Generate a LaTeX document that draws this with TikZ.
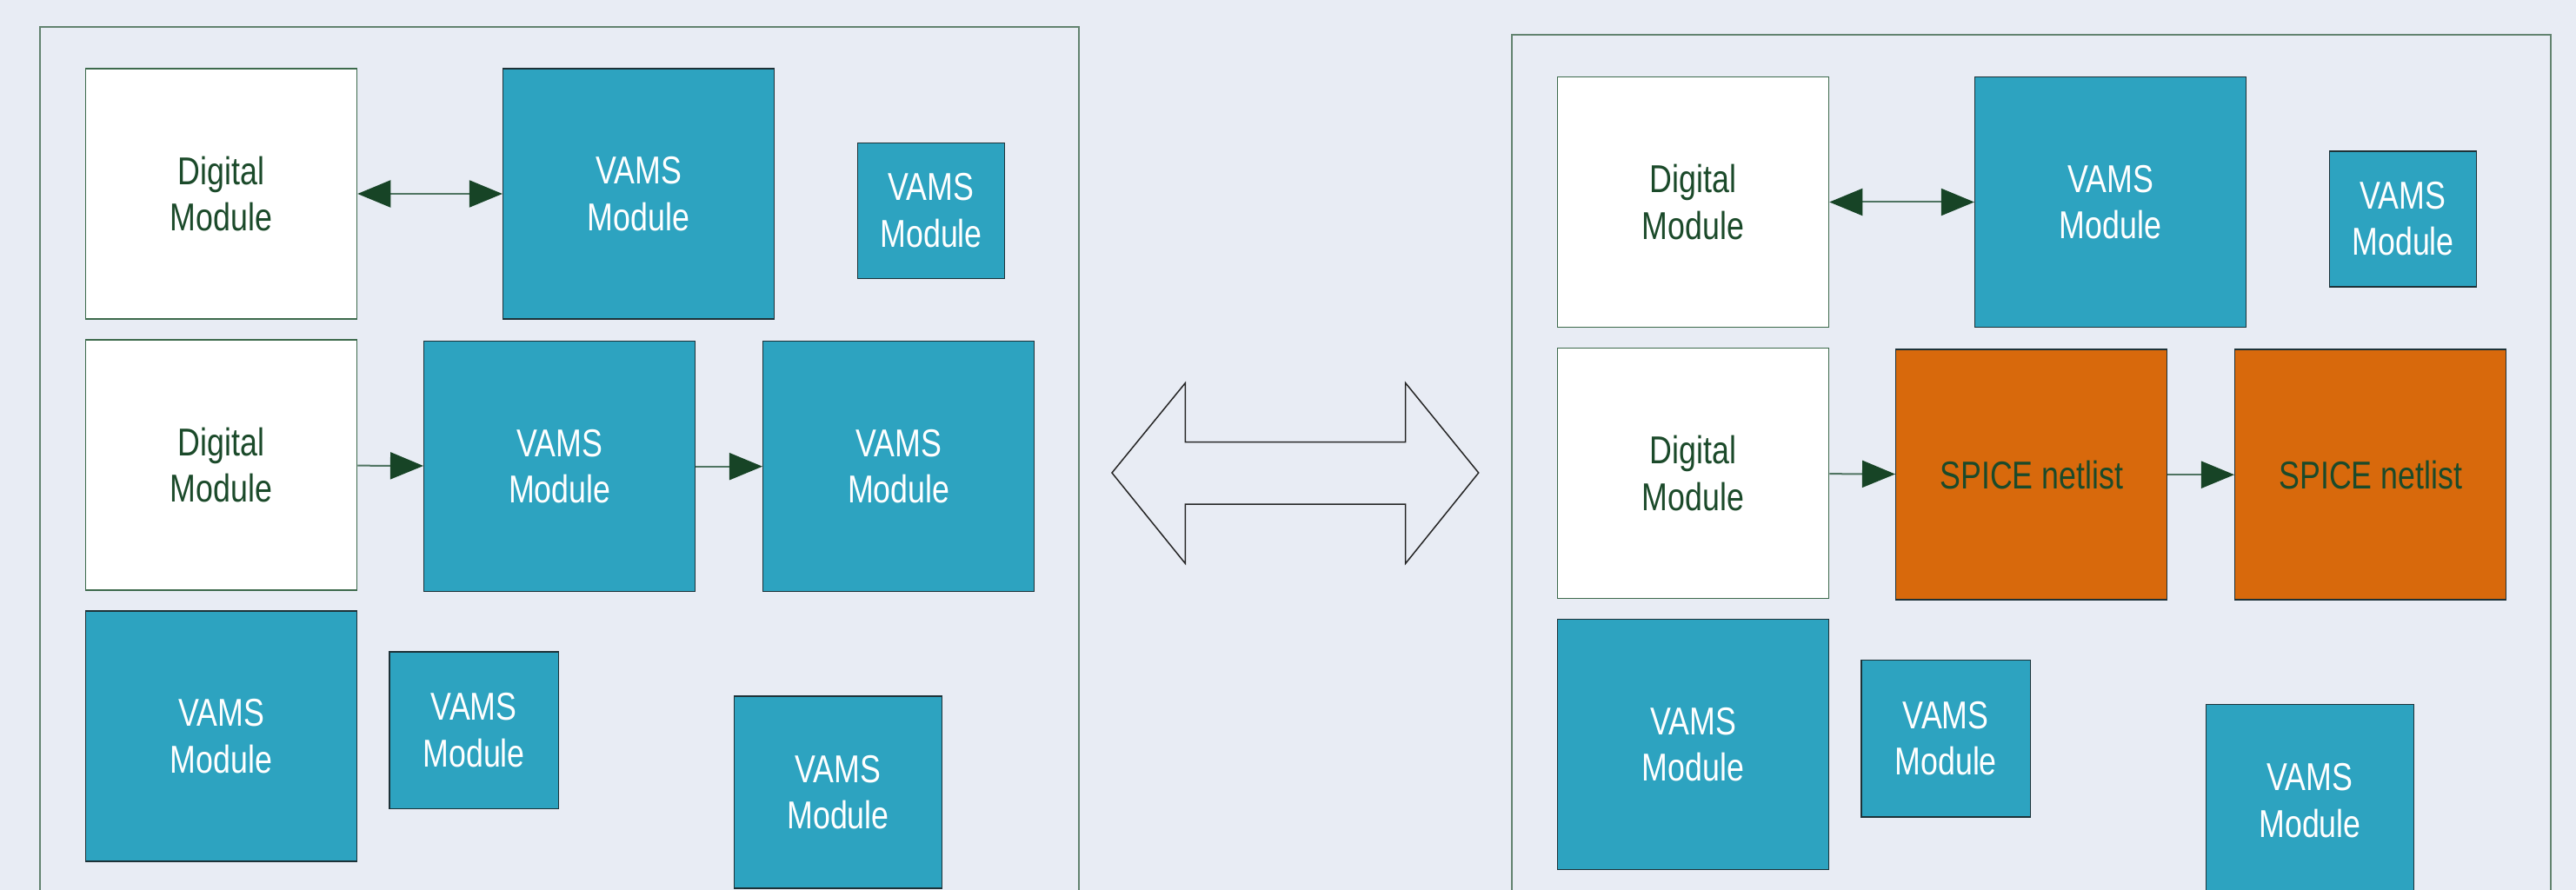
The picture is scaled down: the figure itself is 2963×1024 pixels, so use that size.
\documentclass[tikz,border=0pt]{standalone}
\usepackage{fontspec}
\newfontfamily\boxfont[FakeStretch=0.8]{Liberation Sans}
\usetikzlibrary{arrows.meta}

\definecolor{pagebg}{HTML}{E8ECF4}
\definecolor{panelline}{HTML}{62836F}
\definecolor{dgreen}{HTML}{1B4A2A}
\definecolor{tipgreen}{HTML}{174426}
\definecolor{connline}{HTML}{4F7461}
\definecolor{vamsfill}{HTML}{2DA3C0}
\definecolor{vamsline}{HTML}{1D3238}
\definecolor{spicefill}{HTML}{D8690C}
\definecolor{digline}{HTML}{3D6A4C}

\tikzset{
  modbox/.style={rectangle, inner sep=0pt, line width=1.5pt, align=center,
    font=\boxfont\fontsize{44.7}{53.5}\selectfont},
  dims/.style 2 args={minimum width=#1pt, minimum height=#2pt},
  digital/.style={modbox, draw=digline, fill=white, text=dgreen},
  vams/.style={modbox, draw=vamsline, fill=vamsfill, text=white},
  spice/.style={modbox, draw=vamsline, fill=spicefill, text=dgreen},
  panel/.style={draw=panelline, line width=2pt},
  conn/.style={draw=connline, line width=2pt},
  >={Triangle[length=38pt, width=31pt, color=tipgreen]},
}

\begin{document}
\begin{tikzpicture}[x=1pt, y=-1pt]
  \useasboundingbox (0,0) rectangle (2963,1024);
  \clip (0,0) rectangle (2963,1024);
  \fill[pagebg] (0,0) rectangle (2963,1024);

  % behavioural model: every analog block is a VAMS module
  \begin{scope}[name prefix=l-]
    \draw[panel] (46.4,30.8) rectangle (1241,1060);
    \node[digital, dims={312}{288}] (d1) at (254.5,223) {Digital\\Module};
    \node[vams, dims={312}{288}] (v1) at (734.6,223) {VAMS\\Module};
    \node[vams, dims={169}{156}] (vs) at (1071.1,242.3) {VAMS\\Module};
    \node[digital, dims={312}{288}] (d2) at (254.5,535) {Digital\\Module};
    \node[vams, dims={312}{288}] (v2) at (643.7,536.7) {VAMS\\Module};
    \node[vams, dims={312}{288}] (v3) at (1033.7,536.7) {VAMS\\Module};
    \node[vams, dims={312}{288}] (vb1) at (254.5,847) {VAMS\\Module};
    \node[vams, dims={194.5}{180.5}] (vb2) at (545.2,840.2) {VAMS\\Module};
    \node[vams, dims={239}{221}] (vb3) at (964,911.5) {VAMS\\Module};
    \draw[conn, <->] (d1) -- (v1);
    \draw[conn, ->] (d2) -- (v2);
    \draw[conn, ->] (v2) -- (v3);
  \end{scope}

  % swap between the two views
  \draw[line width=1.5pt, draw=black!85]
    (1279,544) -- (1363.3,440.7) -- (1363.3,508.7) -- (1616.7,508.7)
    -- (1616.7,440.7) -- (1700.7,544) -- (1616.7,648.3) -- (1616.7,580)
    -- (1363.3,580) -- (1363.3,648.3) -- cycle;

  % mixed model: the signal chain replaced by SPICE netlists
  \begin{scope}[shift={(1693,9.5)}, name prefix=r-]
    \draw[panel] (46.4,30.8) rectangle (1241,1060);
    \node[digital, dims={312}{288}] (d1) at (254.5,223) {Digital\\Module};
    \node[vams, dims={312}{288}] (v1) at (734.6,223) {VAMS\\Module};
    \node[vams, dims={169}{156}] (vs) at (1071.1,242.3) {VAMS\\Module};
    \node[digital, dims={312}{288}] (d2) at (254.5,535) {Digital\\Module};
    \node[spice, dims={312}{288}] (s1) at (643.7,536.7) {SPICE netlist};
    \node[spice, dims={312}{288}] (s2) at (1033.7,536.7) {SPICE netlist};
    \node[vams, dims={312}{288}] (vb1) at (254.5,847) {VAMS\\Module};
    \node[vams, dims={194.5}{180.5}] (vb2) at (545.2,840.2) {VAMS\\Module};
    \node[vams, dims={239}{221}] (vb3) at (964,911.5) {VAMS\\Module};
    \draw[conn, <->] (d1) -- (v1);
    \draw[conn, ->] (d2) -- (s1);
    \draw[conn, ->] (s1) -- (s2);
  \end{scope}
\end{tikzpicture}
\end{document}
